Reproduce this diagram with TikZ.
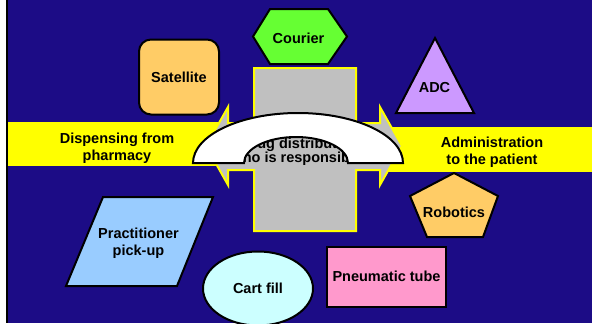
\documentclass[tikz,border=0pt]{standalone}
\usepackage{fontspec}
\setmainfont{Liberation Sans}
\usetikzlibrary{shapes.geometric}
\definecolor{slide}{RGB}{28,12,134}
\definecolor{band}{RGB}{255,255,0}
\definecolor{hub}{RGB}{192,192,192}
\definecolor{apricot}{RGB}{255,204,102}
\definecolor{lime}{RGB}{102,255,51}
\definecolor{lilac}{RGB}{204,153,255}
\definecolor{rose}{RGB}{255,153,204}
\definecolor{ice}{RGB}{204,255,255}
\definecolor{sky}{RGB}{153,204,255}
\tikzset{
  outline/.style={draw=black, line width=2bp},
  lbl/.style={inner sep=0pt, align=center, font=\bfseries\fontsize{14.5bp}{17bp}\selectfont},
}
\begin{document}
\begin{tikzpicture}[x=1bp, y=-1bp]
\useasboundingbox (0, 0) rectangle (592, 323);
\fill[slide] (0, 0) rectangle (592, 323);
\fill[white] (0, 0) rectangle (5.5, 323);
\draw[line width=2bp] (6.5, 0) -- (6.5, 323);
\fill[band] (7.5, 122) rectangle (240, 166);
\fill[band] (385, 127) rectangle (592, 172);
\node[lbl](dispensing) at (117, 148) {Dispensing from\\pharmacy};
\node[lbl](administration) at (492, 152) {Administration\\to the patient};
\draw[fill=hub, draw=band, line width=2bp] (206, 146) -- (228, 107) -- (228, 123) -- (254, 123) -- (254, 68) -- (356, 68) -- (356, 123) -- (380, 123) -- (380, 107) -- (402, 146) -- (380, 185) -- (380, 170) -- (356, 170) -- (356, 231) -- (254, 231) -- (254, 170) -- (228, 170) -- (228, 185) -- cycle;
\node[lbl, font=\bfseries\fontsize{14.5bp}{14bp}\selectfont](question) at (300, 152) {Drug distribution\\Who is responsible?};
\draw[outline, fill=white] (193, 163) arc[start angle=180, end angle=0, x radius=105bp, y radius=50bp] -- (348, 163) arc[start angle=0, end angle=180, x radius=52bp, y radius=26bp] -- cycle;
\node[outline, lbl, fill=apricot, rounded corners=12bp, minimum width=80bp, minimum height=75bp](satellite) at (179, 77) {Satellite};
\draw[outline, fill=lime] (253, 36.5) -- (270, 9) -- (328, 9) -- (347, 36.5) -- (328, 64) -- (270, 64) -- cycle;
\node[lbl](courier) at (298.5, 38) {Courier};
\draw[outline, fill=lilac] (435, 38) -- (474, 113) -- (396, 113) -- cycle;
\node[lbl](adc) at (434.5, 88) {ADC};
\draw[outline, fill=apricot] (454, 173) -- (498, 196) -- (483, 237) -- (427, 237) -- (410, 196) -- cycle;
\node[lbl](robotics) at (454, 212) {Robotics};
\node[outline, lbl, fill=rose, minimum width=119bp, minimum height=60bp](tube) at (386.5, 276.5) {Pneumatic tube};
\node[outline, lbl, fill=ice, ellipse, minimum width=110bp, minimum height=74bp](cart) at (258, 288.5) {Cart fill};
\draw[outline, fill=sky] (103, 197) -- (213, 197) -- (177, 286) -- (66, 286) -- cycle;
\node[lbl](pickup) at (138.5, 243.5) {Practitioner\\pick-up};
\end{tikzpicture}
\end{document}
